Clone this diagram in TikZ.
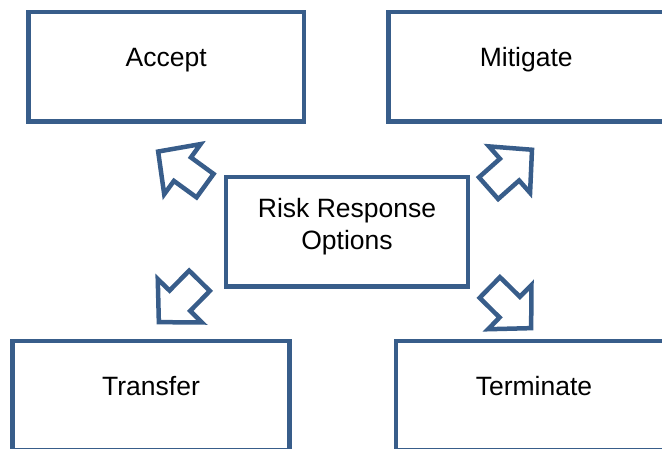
\documentclass[tikz,border=0pt]{standalone}
\usepackage{fontspec}
\setmainfont{Liberation Sans}
\usepackage{xcolor}
\usepackage{tikz}
\usetikzlibrary{calc,positioning}

\definecolor{riskblue}{RGB}{56,93,138}
\newcommand{\respfont}{\fontsize{26.5}{32.7}\selectfont}

\begin{document}
\begin{tikzpicture}[x=1pt, y=1pt, line width=4.5pt,
    option/.style={rectangle, draw=riskblue, minimum width=275.5pt, minimum height=109.5pt,
        inner sep=0pt, text height=19pt, text depth=19pt, font=\respfont},
    hub/.style={rectangle, draw=riskblue, minimum width=242pt, minimum height=109.7pt,
        inner sep=0pt, align=center, text depth=16pt, font=\respfont},
    respArrow/.pic={
        \draw[draw=riskblue, fill=white] (0,0) -- (-30,31) -- (-30,14.5) -- (-58,14.5)
            -- (-58,-14.5) -- (-30,-14.5) -- (-30,-31) -- cycle;
    }]
    \useasboundingbox (0,0) rectangle (662,449);
    \node[hub] (hub) at (347,217.15) {Risk Response\\Options};
    \node[option] (accept) at (166.25,382.25) {Accept};
    \node[option] (mitigate) at (526.25,382.25) {Mitigate};
    \node[option, minimum width=277pt] (transfer) at (151,53.25) {Transfer};
    \node[option, minimum width=276pt] (terminate) at (534,53.25) {Terminate};
    % block arrows from the hub towards each option
    \pic[rotate=144] at ($(hub.north west)+(-65.6,23.2)$) {respArrow};
    \pic[rotate=41.5] at ($(hub.north east)+(61.75,25)$) {respArrow};
    \pic[rotate=225.5] at ($(hub.south west)+(-64.9,-33.2)$) {respArrow};
    \pic[rotate=-44.5] at ($(hub.south east)+(60.9,-39.2)$) {respArrow};
\end{tikzpicture}
\end{document}
